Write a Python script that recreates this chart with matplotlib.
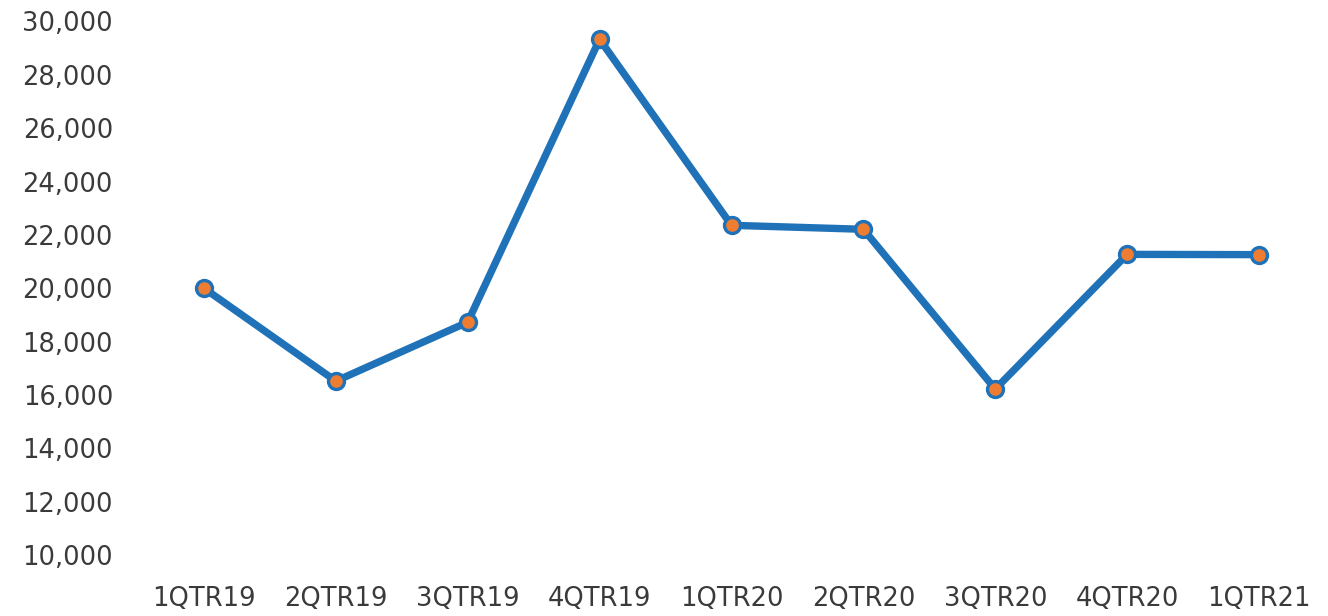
import matplotlib
matplotlib.use("Agg")
import matplotlib.pyplot as plt
from matplotlib.ticker import FuncFormatter

categories = ["1QTR19", "2QTR19", "3QTR19", "4QTR19", "1QTR20", "2QTR20", "3QTR20", "4QTR20", "1QTR21"]
values = [20000, 16520, 18730, 29330, 22360, 22210, 16220, 21270, 21260]
yticks = [10000, 12000, 14000, 16000, 18000, 20000, 22000, 24000, 26000, 28000, 30000]

W, H = 1328, 616
fig = plt.figure(figsize=(W / 100, H / 100), dpi=100)
ax = fig.add_axes([138 / W, 1 - 555 / H, (1325 - 138) / W, (555 - 21.5) / H])

x = list(range(len(categories)))
ax.plot(x, values, color="#1f72b8", lw=5.3, solid_capstyle="round", solid_joinstyle="round",
        marker="o", markersize=11.5, markerfacecolor="#ee7d31", markeredgecolor="#1f72b8",
        markeredgewidth=2.4, zorder=3)

ax.set_xlim(-0.5, len(categories) - 0.5)
ax.set_ylim(10000, 30000)
ax.set_xticks(x)
ax.set_xticklabels(categories)
ax.set_yticks(yticks)
ax.yaxis.set_major_formatter(FuncFormatter(lambda v, p: f"{int(v):,}"))

for s in ax.spines.values():
    s.set_visible(False)
ax.tick_params(axis="both", length=0, colors="#3a3a3a", labelsize=18.5)
ax.tick_params(axis="x", pad=22)
ax.tick_params(axis="y", pad=18)
for lab in ax.get_xticklabels() + ax.get_yticklabels():
    lab.set_fontfamily("DejaVu Sans")

fig.savefig("out.png", dpi=100, facecolor="white")
